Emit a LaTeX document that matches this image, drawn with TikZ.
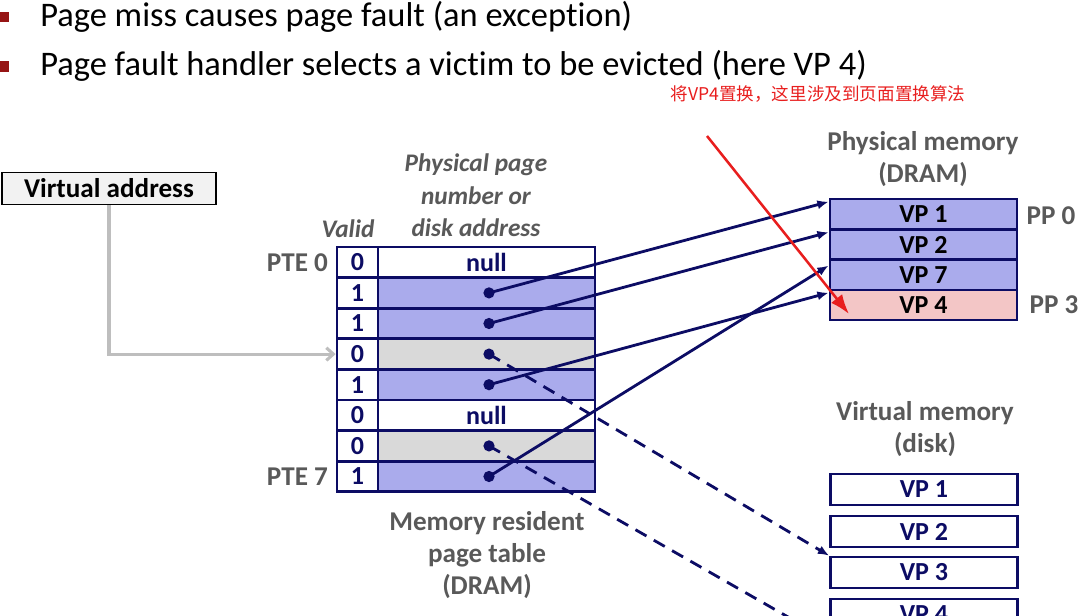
\documentclass[tikz,border=0pt]{standalone}
\usepackage{fontspec}
\setmainfont{Carlito}[Ligatures=NoCommon]
\newfontfamily\cjkfont{Noto Sans CJK SC}
\usetikzlibrary{arrows.meta}

\definecolor{tabnavy}{RGB}{12,12,100}
\definecolor{pageblue}{RGB}{170,171,236}
\definecolor{pagegray}{RGB}{217,217,217}
\definecolor{pagepink}{RGB}{243,198,198}
\definecolor{labelgray}{RGB}{89,89,89}
\definecolor{linegray}{RGB}{190,190,190}
\definecolor{boxgray}{RGB}{242,242,242}
\definecolor{notered}{RGB}{232,30,30}
\definecolor{bulletred}{RGB}{150,20,20}

\begin{document}
\begin{tikzpicture}[x=0.025cm, y=-0.025cm,
		validcell/.style={draw=tabnavy, line width=1.9pt, minimum width=1.025cm, minimum height=0.766cm, inner sep=0pt, text=tabnavy, font=\fontsize{18.5}{20}\selectfont\bfseries},
		datacell/.style={validcell, minimum width=5.425cm},
		memcell/.style={validcell, minimum width=4.675cm, minimum height=0.756cm, text=black},
		diskcell/.style={validcell, minimum width=4.675cm, minimum height=0.775cm, fill=white},
		lbl/.style={text=labelgray, font=\fontsize{19.3}{23}\selectfont\bfseries, align=center},
		ital/.style={text=labelgray, font=\fontsize{18}{23}\selectfont\bfseries\itshape, align=center},
		bullet/.style={font=\fontsize{24.5}{28}\selectfont, anchor=west, inner sep=0pt},
		ptr/.style={draw=tabnavy, line width=2pt, -{Latex[length=8pt,width=6.5pt]}},
		dot/.style={fill=tabnavy}]
		\useasboundingbox (0,0) rectangle (1080,616);
		\clip (0,0) rectangle (1080,616);

		% bullets
		\fill[bulletred] (0,12) rectangle (9,22);
		\fill[bulletred] (0,61) rectangle (9,72);
		\node[bullet] (b1) at (40,17) {Page miss causes page fault (an exception)};
		\node[bullet] (b2) at (40,66) {Page fault handler selects a victim to be evicted (here VP 4)};
		\node[text=notered, font=\cjkfont\fontsize{12.5}{14}\selectfont, inner sep=0pt] (note) at (818,94) {将VP4置换，这里涉及到页面置换算法};

		% virtual address
		\node[draw, line width=1pt, fill=boxgray, minimum width=5.35cm, minimum height=0.8cm, inner sep=0pt, font=\fontsize{19.3}{22}\selectfont\bfseries] (va) at (109,188.5) {Virtual address};

		% page table
		\foreach \v/\f/\t [count=\i from 0] in {0/white/null, 1/pageblue/{}, 1/pageblue/{}, 0/pagegray/{}, 1/pageblue/{}, 0/white/null, 0/pagegray/{}, 1/pageblue/{}} {
			\node[validcell, fill=white] (v\i) at (357.5, {262.3+30.6*\i}) {\v};
			\node[datacell, fill=\f] (d\i) at (486.5, {262.3+30.6*\i}) {\t};
			\coordinate (p\i) at (489, {262.3+30.6*\i});
		}
		\node[lbl, anchor=east] (pte0) at ([xshift=-2pt]v0.west) {PTE 0};
		\node[lbl, anchor=east] (pte7) at ([xshift=-2pt]v7.west) {PTE 7};
		\node[ital] (valid) at (348,229) {Valid};
		\node[ital] (ppn) at (476,195.5) {Physical page\\number or\\disk address};
		\node[lbl] (ptlbl) at (487,555) {Memory resident\\page table\\(DRAM)};

		% physical memory
		\node[memcell, fill=pageblue] (pm1) at (923.5,214) {VP 1};
		\node[memcell, fill=pageblue] (pm2) at (923.5,244.5) {VP 2};
		\node[memcell, fill=pageblue] (pm7) at (923.5,275) {VP 7};
		\node[memcell, fill=pagepink] (pm4) at (923.5,305) {VP 4};
		\node[lbl] (pmlbl) at (923,159) {Physical memory\\(DRAM)};
		\node[lbl] (pp0) at (1051,216) {PP 0};
		\node[lbl] (pp3) at (1054,305) {PP 3};

		% virtual memory (disk)
		\node[diskcell] (vm1) at (924,489.5) {VP 1};
		\node[diskcell] (vm2) at (924,531.5) {VP 2};
		\node[diskcell] (vm3) at (924,572.5) {VP 3};
		\node[diskcell] (vm4) at (924,614.5) {VP 4};
		\coordinate (vm6) at (830,641);
		\node[lbl] (vmlbl) at (925,429) {Virtual memory\\(disk)};

		% pointers
		\draw[line width=2.2pt, draw=linegray, -{Straight Barb[length=5pt,width=9pt]}] (va.south) |- (v3.west);
		\draw[ptr] (p1) -- ([yshift=-3pt]pm1.north west);
		\draw[ptr] (p2) -- ([yshift=-3pt]pm2.north west);
		\draw[ptr] (p7) -- ([yshift=-5pt]pm7.north west);
		\draw[ptr] (p4) -- ([yshift=-3pt]pm4.north west);
		\draw[ptr, dashed, dash pattern=on 9pt off 6pt] (p3) -- (vm3.north west);
		\draw[ptr, dashed, dash pattern=on 9pt off 6pt] (p6) -- (vm6);
		\foreach \i in {1,2,3,4,6,7} {
			\fill[dot] (p\i) circle (4pt);
		}

		% victim
		\coordinate (redstart) at (707,136);
		\coordinate (redend) at (849,314);
		\draw[notered, line width=1.8pt, -{Latex[length=14pt,width=10pt]}] (redstart) -- (redend);
	\end{tikzpicture}
\end{document}
